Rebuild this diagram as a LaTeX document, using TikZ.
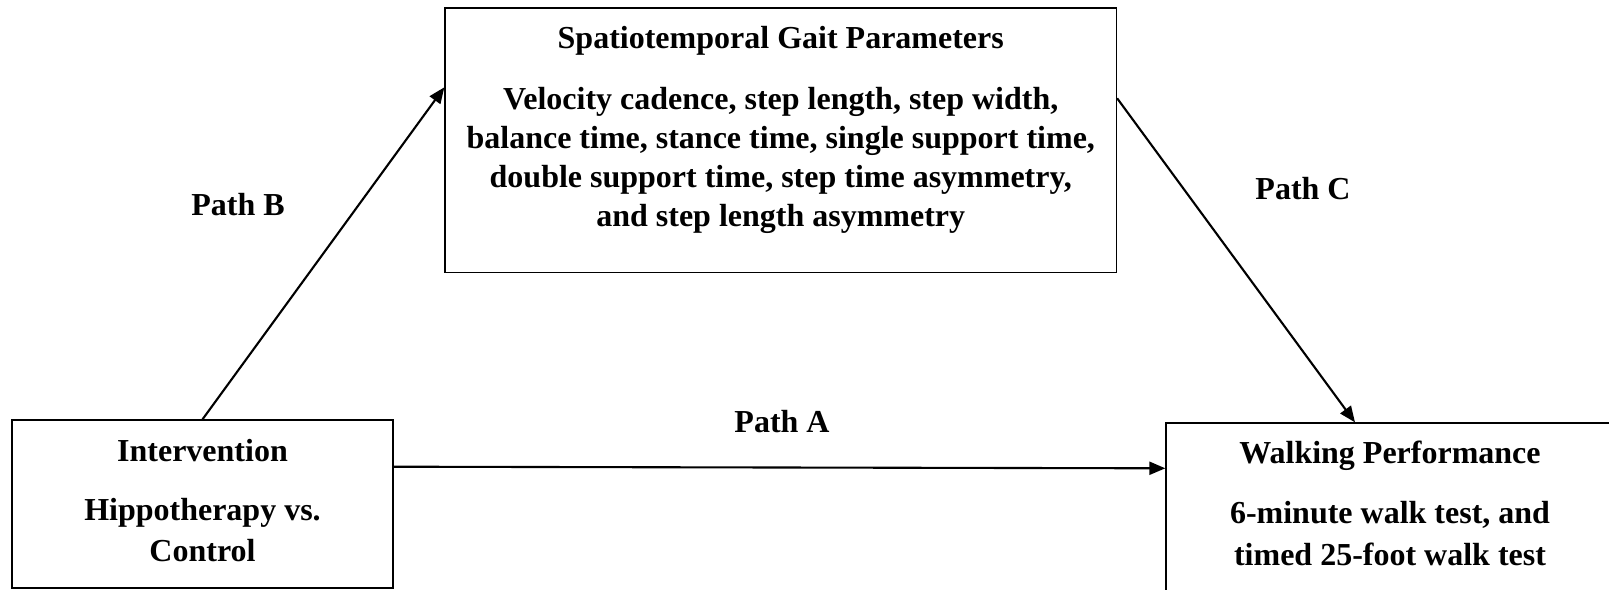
\documentclass[tikz,border=0pt]{standalone}
\usepackage{fontspec}
\setmainfont{Liberation Serif}
\usetikzlibrary{arrows.meta}
\tikzset{
  box/.style={draw=black, line width=1.3pt, rectangle, inner sep=0pt},
  txt/.style={anchor=base, inner sep=0pt, font=\fontsize{32}{39}\selectfont\bfseries},
  arr/.style={draw=black, line width=2.1pt, -{Triangle[length=16pt,width=13pt]}}
}
\begin{document}
\begin{tikzpicture}[x=1pt,y=-1pt]
\useasboundingbox (0,0) rectangle (1609,589);
\fill[white] (0,0) rectangle (1609,589);
% boxes
\node[box, minimum width=381pt, minimum height=168pt] (I) at (202.5,504) {};
\node[box, minimum width=671.5pt, minimum height=264.3pt] (S) at (780.75,140.15) {};
\node[box, minimum width=448pt, minimum height=177pt] (W) at (1390,511.5) {};
% Spatiotemporal text
\node[txt] (s0) at (780.75,48.3) {Spatiotemporal Gait Parameters};
\node[txt] (s1) at (780.75,109.3) {Velocity cadence, step length, step width,};
\node[txt] (s2) at (780.75,148.3) {balance time, stance time, single support time,};
\node[txt] (s3) at (780.75,187.3) {double support time, step time asymmetry,};
\node[txt] (s4) at (780.75,226.3) {and step length asymmetry};
% Intervention text
\node[txt] (i0) at (202.5,461) {Intervention};
\node[txt] (i1) at (202.5,520) {Hippotherapy vs.};
\node[txt] (i2) at (202.5,561) {Control};
% Walking text
\node[txt] (w0) at (1390,463.3) {Walking Performance};
\node[txt] (w1) at (1390,523) {6-minute walk test, and};
\node[txt] (w2) at (1390,565) {timed 25-foot walk test};
% path labels
\node[txt] (pB) at (238,215) {Path B};
\node[txt] (pC) at (1303,199.3) {Path C};
\node[txt] (pA) at (782,432) {Path A};
% connectors
\draw[arr] (I.north) -- (S.west |- 0,87.3);
\draw[arr] (S.east |- 0,98.3) -- (W.north -| 1355,0);
\draw[arr] (I.east |- 0,466.7) -- (W.west |- 0,468.3);
\end{tikzpicture}
\end{document}
